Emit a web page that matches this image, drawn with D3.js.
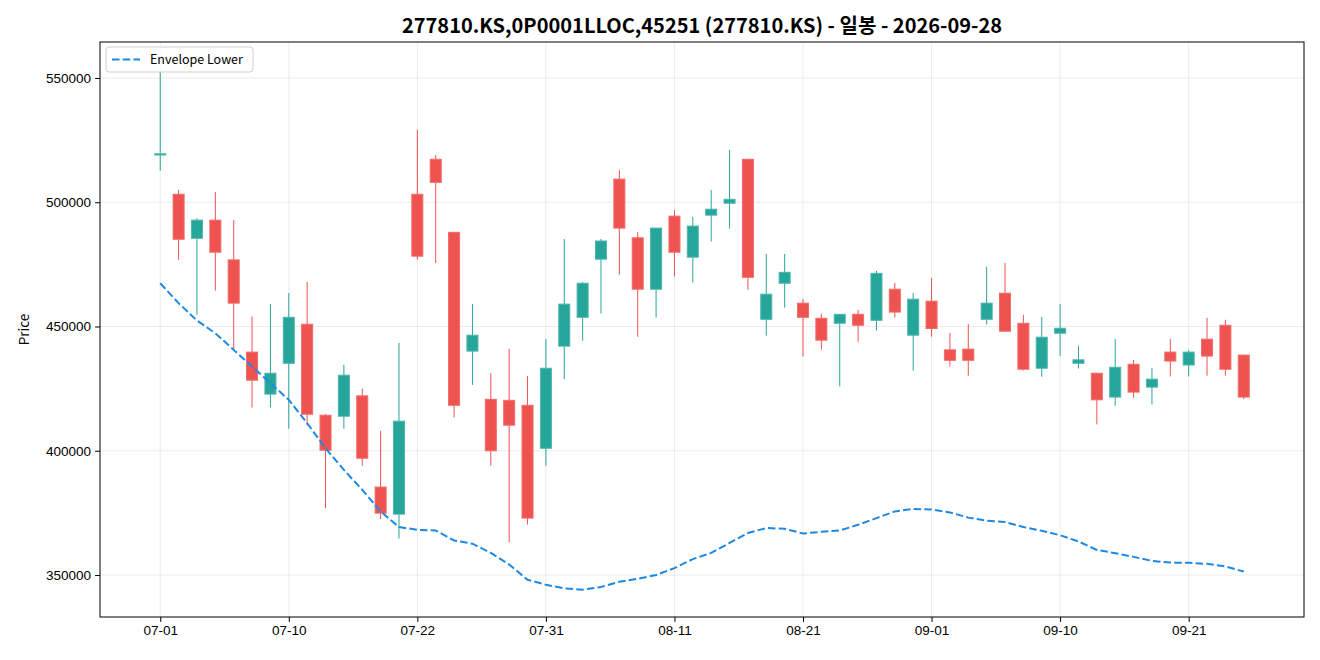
<!DOCTYPE html>
<html>
<head>
<meta charset="utf-8">
<script src="https://cdn.jsdelivr.net/npm/d3@7"></script>
<style>
  body { margin: 0; background: #fff; }
  svg { display: block; font-family: "Noto Sans CJK KR", "Noto Sans", sans-serif; }
</style>
</head>
<body>
<div id="chart"></div>
<script>
// trading days shown on the chart
const dates = [
  '07-01', '07-02', '07-03', '07-06', '07-07', '07-08', '07-09', '07-10', '07-13', '07-14',
  '07-15', '07-16', '07-20', '07-21', '07-22', '07-23', '07-24', '07-27', '07-28', '07-29',
  '07-30', '07-31', '08-03', '08-04', '08-05', '08-06', '08-07', '08-10', '08-11', '08-12',
  '08-13', '08-14', '08-18', '08-19', '08-20', '08-21', '08-24', '08-25', '08-26', '08-27',
  '08-28', '08-31', '09-01', '09-02', '09-03', '09-04', '09-07', '09-08', '09-09', '09-10',
  '09-11', '09-14', '09-15', '09-16', '09-17', '09-18', '09-21', '09-22', '09-23', '09-24'
];

const open = [
  519000, 503200, 485500, 492800, 476800, 439700, 422800, 435200, 450900, 414300,
  413900, 422100, 385400, 374500, 503200, 517300, 487900, 440100, 420700, 420300,
  418300, 401000, 442100, 453700, 477100, 509300, 485700, 465000, 494400, 477900,
  494800, 499600, 517300, 452900, 467400, 459400, 453300, 451300, 454900, 452500,
  465000, 446500, 460200, 440600, 440900, 452900, 463400, 451300, 433200, 447300,
  435200, 431200, 421600, 434800, 425600, 439700, 434500, 444900, 450500, 438500
];
const high = [
  553000, 505000, 493600, 504100, 492900, 454000, 459100, 463500, 467900, 414800,
  434600, 425000, 408000, 443400, 529100, 519000, 487900, 459100, 431300, 441000,
  430100, 445000, 485200, 467900, 485200, 513000, 488100, 489600, 496900, 494100,
  504900, 521000, 517300, 479200, 479200, 461000, 455200, 454900, 456700, 472400,
  467500, 463500, 469500, 447400, 451000, 474000, 475600, 454700, 453900, 459100,
  442200, 431200, 445000, 436600, 433300, 445000, 440600, 453500, 452700, 438700
];
const low = [
  512700, 476800, 454700, 464500, 440300, 417400, 417400, 408900, 410200, 376900,
  408900, 394000, 372500, 364700, 476900, 475600, 413400, 426500, 394000, 363100,
  370300, 394000, 428800, 444300, 455200, 470900, 445900, 453600, 470100, 467700,
  484200, 489400, 464800, 446300, 457600, 437900, 440700, 425900, 443900, 448400,
  453600, 432300, 445900, 433900, 430200, 450800, 447800, 432300, 429800, 438200,
  433100, 410600, 418100, 421400, 418600, 429900, 429900, 430200, 430200, 420700
];
const close = [
  519500, 485100, 492800, 479900, 459400, 428400, 431200, 453700, 414700, 400200,
  430400, 397000, 374900, 411900, 478300, 508000, 418300, 446500, 400000, 410300,
  372900, 433200, 459000, 467400, 484400, 489600, 465000, 489600, 479900, 490400,
  497200, 501200, 469800, 463000, 471800, 453700, 444500, 454900, 450500, 471400,
  455800, 461000, 449200, 436400, 436400, 459400, 448100, 432800, 445700, 449300,
  436600, 420500, 433600, 423600, 428800, 436100, 439700, 438100, 432800, 421600
];
const envelopeLower = [
  467400, 459400, 452400, 447300, 440600, 433900, 427200, 420500, 411100, 401000,
  392300, 384300, 375600, 369300, 368200, 367900, 363900, 362600, 358900, 354200,
  348100, 346100, 344600, 344100, 345200, 347300, 348500, 350000, 352800, 356400,
  358900, 362900, 366900, 368900, 368600, 366700, 367400, 367900, 370200, 372900,
  375600, 376600, 376400, 375200, 373100, 371900, 371300, 369300, 367800, 366000,
  363500, 360100, 358800, 357300, 355700, 355000, 354900, 354500, 353500, 351400
];

const yTicks = [350000, 400000, 450000, 500000, 550000];
const xTickIdx = [0, 7, 14, 21, 28, 35, 42, 49, 56];
const title = '277810.KS,0P0001LLOC,45251 (277810.KS) - 일봉 - 2026-09-28';

const upColor = '#26a69a';
const downColor = '#ef5350';
const lineColor = '#1e88e5';

const W = 1320, H = 660;
const margin = {top: 42, right: 16, bottom: 43, left: 100};

const data = dates.map((d, i) => ({
  i, date: d, o: open[i], h: high[i], l: low[i], c: close[i], env: envelopeLower[i]
}));

const x = d3.scaleLinear()
  .domain([-3.28, data.length - 1 + 3.28])
  .range([margin.left, W - margin.right]);
const y = d3.scaleLinear()
  .domain([333110, 564480])
  .range([H - margin.bottom, margin.top]);

const svg = d3.select('#chart').append('svg')
  .attr('width', W)
  .attr('height', H);

// grid lines
const grid = svg.append('g').attr('stroke', '#b0b0b0').attr('stroke-opacity', 0.3).attr('stroke-width', 0.8);
grid.selectAll('.gx').data(xTickIdx).enter().append('line')
  .attr('x1', d => x(d)).attr('x2', d => x(d))
  .attr('y1', margin.top).attr('y2', H - margin.bottom);
grid.selectAll('.gy').data(yTicks).enter().append('line')
  .attr('x1', margin.left).attr('x2', W - margin.right)
  .attr('y1', d => y(d)).attr('y2', d => y(d));

// candles
const bw = x(0.6) - x(0);
const candles = svg.append('g').selectAll('.candle').data(data).enter().append('g');
candles.append('line')
  .attr('x1', d => x(d.i)).attr('x2', d => x(d.i))
  .attr('y1', d => y(d.h)).attr('y2', d => y(d.l))
  .attr('stroke', d => d.c >= d.o ? upColor : downColor)
  .attr('stroke-width', 1);
candles.append('rect')
  .attr('x', d => x(d.i) - bw / 2)
  .attr('width', bw)
  .attr('y', d => y(Math.max(d.o, d.c)))
  .attr('height', d => Math.max(0.5, Math.abs(y(d.o) - y(d.c))))
  .attr('fill', d => d.c >= d.o ? upColor : downColor)
  .attr('stroke', d => d.c >= d.o ? '#4db6ac' : '#f26b69')
  .attr('stroke-width', 1);

// envelope lower line
const line = d3.line().x(d => x(d.i)).y(d => y(d.env));
svg.append('path')
  .datum(data)
  .attr('d', line)
  .attr('fill', 'none')
  .attr('stroke', lineColor)
  .attr('stroke-width', 2)
  .attr('stroke-dasharray', '7.5,3.2');

// axes
const xAxis = d3.axisBottom(x)
  .tickValues(xTickIdx)
  .tickFormat(i => dates[i])
  .tickSize(4.9)
  .tickPadding(4);
const yAxis = d3.axisLeft(y)
  .tickValues(yTicks)
  .tickFormat(d3.format('d'))
  .tickSize(4.9)
  .tickPadding(4);

svg.append('g')
  .attr('transform', `translate(0,${H - margin.bottom})`)
  .call(xAxis)
  .call(g => g.select('.domain').remove())
  .call(g => g.selectAll('text').style('font-size', '13.5px').attr('fill', '#000'));
svg.append('g')
  .attr('transform', `translate(${margin.left},0)`)
  .call(yAxis)
  .call(g => g.select('.domain').remove())
  .call(g => g.selectAll('text').style('font-size', '13.5px').attr('fill', '#000'));

// frame
svg.append('rect')
  .attr('x', margin.left).attr('y', margin.top)
  .attr('width', W - margin.left - margin.right)
  .attr('height', H - margin.top - margin.bottom)
  .attr('fill', 'none').attr('stroke', '#000').attr('stroke-width', 1);

// labels
svg.append('text')
  .attr('x', (margin.left + W - margin.right) / 2)
  .attr('y', 33)
  .attr('text-anchor', 'middle')
  .style('font-size', '20px')
  .style('font-weight', 'bold')
  .text(title);
svg.append('text')
  .attr('transform', `translate(29,${(margin.top + H - margin.bottom) / 2}) rotate(-90)`)
  .attr('text-anchor', 'middle')
  .style('font-size', '13.5px')
  .text('Price');

// legend
const legend = svg.append('g').attr('transform', `translate(${margin.left + 6},${margin.top + 5})`);
legend.append('rect')
  .attr('width', 147).attr('height', 25).attr('rx', 3)
  .attr('fill', '#fff').attr('fill-opacity', 0.8)
  .attr('stroke', '#d0d0d0');
legend.append('line')
  .attr('x1', 6).attr('x2', 34).attr('y1', 12.5).attr('y2', 12.5)
  .attr('stroke', lineColor).attr('stroke-width', 2)
  .attr('stroke-dasharray', '7.5,3.2');
legend.append('text')
  .attr('x', 44).attr('y', 17)
  .style('font-size', '12.5px')
  .text('Envelope Lower');
</script>
</body>
</html>
